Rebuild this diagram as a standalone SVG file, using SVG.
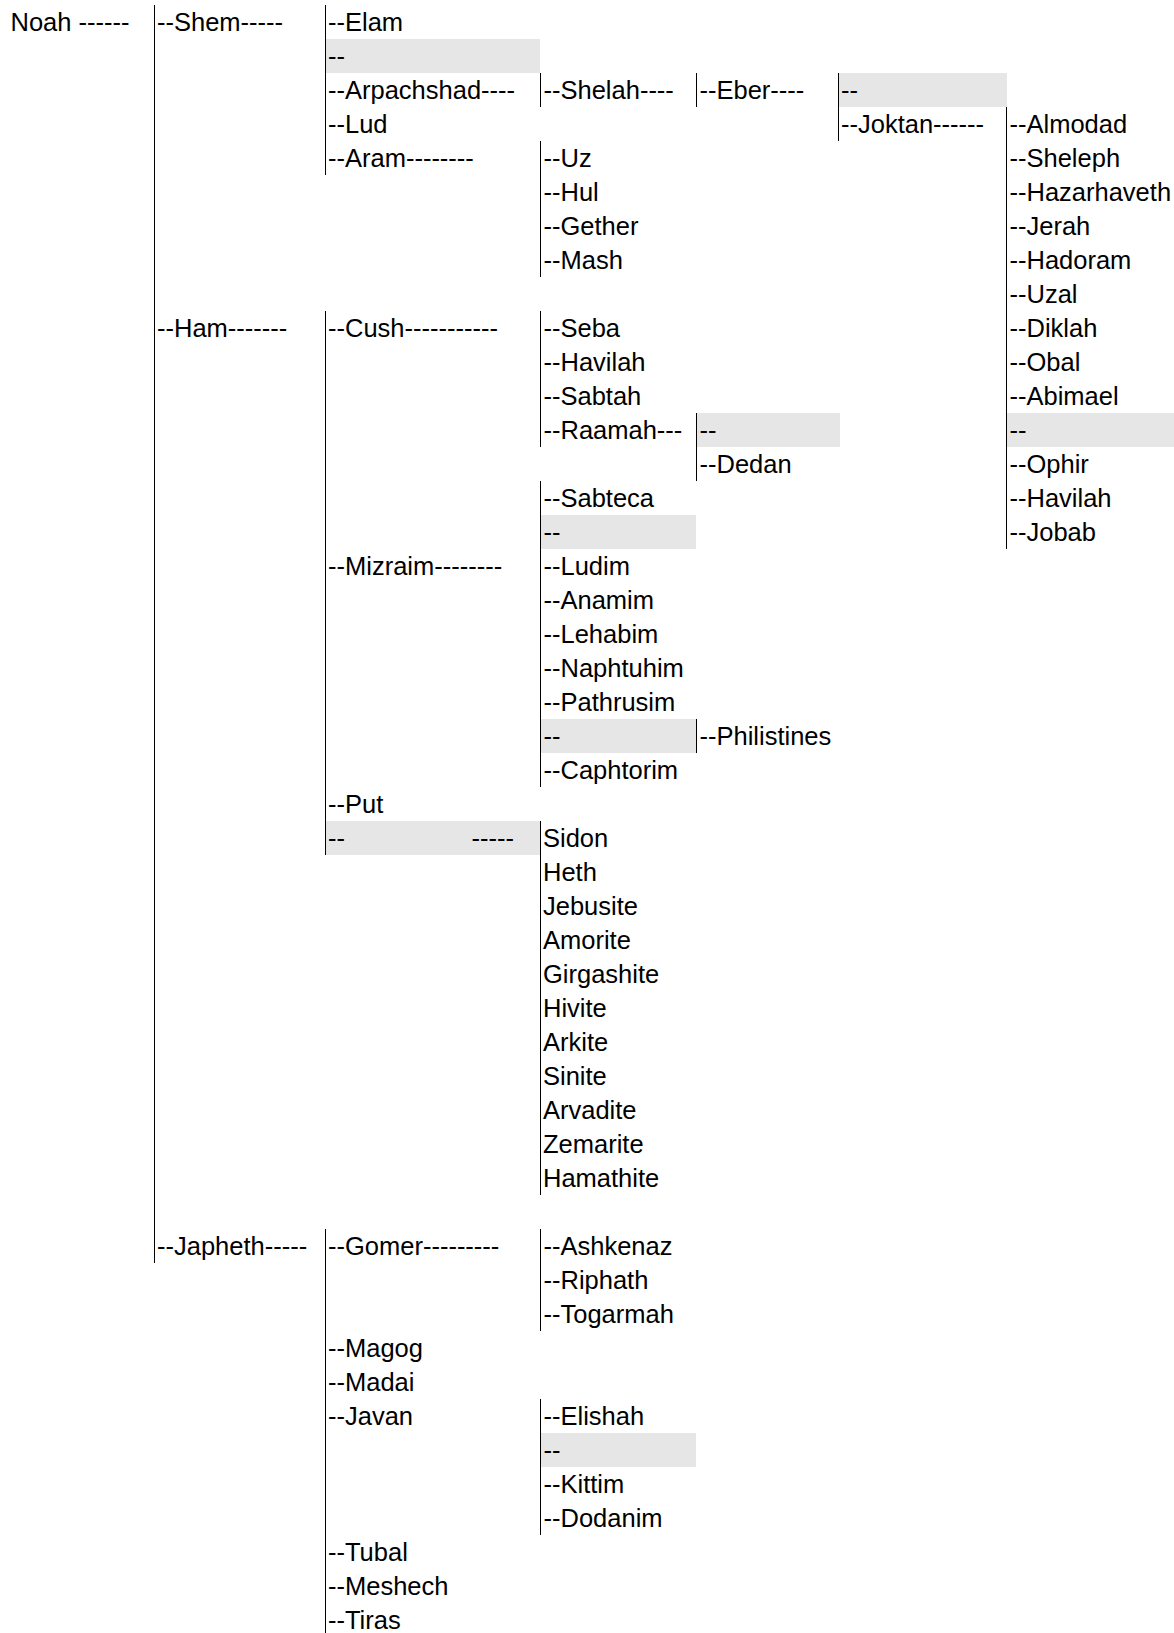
<svg xmlns="http://www.w3.org/2000/svg" width="1174" height="1633" viewBox="0 0 1174 1633">
<style>
text{font-family:"Liberation Sans",Arial,sans-serif;font-size:25.5px;fill:#000}
.g{fill:#e6e6e6}
#connectors line{stroke:#000;stroke-width:1}
</style>
<rect width="1174" height="1633" fill="#fff"/>
<g id="shades">
<rect class="g" x="325" y="39" width="215" height="34"/>
<rect class="g" x="838" y="73" width="169" height="34"/>
<rect class="g" x="696" y="413" width="144" height="34"/>
<rect class="g" x="1006" y="413" width="168" height="34"/>
<rect class="g" x="540" y="515" width="156" height="34"/>
<rect class="g" x="540" y="719" width="156" height="34"/>
<rect class="g" x="325" y="821" width="215" height="34"/>
<rect class="g" x="540" y="1433" width="156" height="34"/>
</g>
<g id="connectors">
<line x1="154.5" y1="5" x2="154.5" y2="1263"/>
<line x1="325.5" y1="5" x2="325.5" y2="175"/>
<line x1="325.5" y1="311" x2="325.5" y2="855"/>
<line x1="325.5" y1="1229" x2="325.5" y2="1633"/>
<line x1="540.5" y1="73" x2="540.5" y2="107"/>
<line x1="540.5" y1="141" x2="540.5" y2="277"/>
<line x1="540.5" y1="311" x2="540.5" y2="447"/>
<line x1="540.5" y1="481" x2="540.5" y2="787"/>
<line x1="540.5" y1="821" x2="540.5" y2="1195"/>
<line x1="540.5" y1="1229" x2="540.5" y2="1331"/>
<line x1="540.5" y1="1399" x2="540.5" y2="1535"/>
<line x1="696.5" y1="73" x2="696.5" y2="107"/>
<line x1="696.5" y1="413" x2="696.5" y2="481"/>
<line x1="696.5" y1="719" x2="696.5" y2="753"/>
<line x1="838.5" y1="73" x2="838.5" y2="141"/>
<line x1="1006.5" y1="107" x2="1006.5" y2="549"/>
</g>
<g id="noah"><text x="10.5" y="31">Noah ------</text></g>
<g id="shem"><text x="157" y="31">--Shem-----</text></g>
<g id="ham"><text x="157" y="337">--Ham-------</text></g>
<g id="japheth"><text x="157" y="1255">--Japheth-----</text></g>
<g id="elam"><text x="328" y="31">--Elam</text></g>
<g id="shem-blank"><text x="328" y="65">--</text></g>
<g id="arpachshad"><text x="328" y="99">--Arpachshad----</text></g>
<g id="lud"><text x="328" y="133">--Lud</text></g>
<g id="aram"><text x="328" y="167">--Aram--------</text></g>
<g id="cush"><text x="328" y="337">--Cush-----------</text></g>
<g id="mizraim"><text x="328" y="575">--Mizraim--------</text></g>
<g id="put"><text x="328" y="813">--Put</text></g>
<g id="canaan"><text x="328" y="847">--</text><text x="471.5" y="847">-----</text></g>
<g id="gomer"><text x="328" y="1255">--Gomer---------</text></g>
<g id="magog"><text x="328" y="1357">--Magog</text></g>
<g id="madai"><text x="328" y="1391">--Madai</text></g>
<g id="javan"><text x="328" y="1425">--Javan</text></g>
<g id="tubal"><text x="328" y="1561">--Tubal</text></g>
<g id="meshech"><text x="328" y="1595">--Meshech</text></g>
<g id="tiras"><text x="328" y="1629">--Tiras</text></g>
<g id="shelah"><text x="543.5" y="99">--Shelah----</text></g>
<g id="uz"><text x="543.5" y="167">--Uz</text></g>
<g id="hul"><text x="543.5" y="201">--Hul</text></g>
<g id="gether"><text x="543.5" y="235">--Gether</text></g>
<g id="mash"><text x="543.5" y="269">--Mash</text></g>
<g id="seba"><text x="543.5" y="337">--Seba</text></g>
<g id="havilah-cush"><text x="543.5" y="371">--Havilah</text></g>
<g id="sabtah"><text x="543.5" y="405">--Sabtah</text></g>
<g id="raamah"><text x="543.5" y="439">--Raamah---</text></g>
<g id="sabteca"><text x="543.5" y="507">--Sabteca</text></g>
<g id="cush-blank"><text x="543.5" y="541">--</text></g>
<g id="ludim"><text x="543.5" y="575">--Ludim</text></g>
<g id="anamim"><text x="543.5" y="609">--Anamim</text></g>
<g id="lehabim"><text x="543.5" y="643">--Lehabim</text></g>
<g id="naphtuhim"><text x="543.5" y="677">--Naphtuhim</text></g>
<g id="pathrusim"><text x="543.5" y="711">--Pathrusim</text></g>
<g id="casluhim"><text x="543.5" y="745">--</text></g>
<g id="caphtorim"><text x="543.5" y="779">--Caphtorim</text></g>
<g id="sidon"><text x="543" y="847">Sidon</text></g>
<g id="heth"><text x="543" y="881">Heth</text></g>
<g id="jebusite"><text x="543" y="915">Jebusite</text></g>
<g id="amorite"><text x="543" y="949">Amorite</text></g>
<g id="girgashite"><text x="543" y="983">Girgashite</text></g>
<g id="hivite"><text x="543" y="1017">Hivite</text></g>
<g id="arkite"><text x="543" y="1051">Arkite</text></g>
<g id="sinite"><text x="543" y="1085">Sinite</text></g>
<g id="arvadite"><text x="543" y="1119">Arvadite</text></g>
<g id="zemarite"><text x="543" y="1153">Zemarite</text></g>
<g id="hamathite"><text x="543" y="1187">Hamathite</text></g>
<g id="ashkenaz"><text x="543.5" y="1255">--Ashkenaz</text></g>
<g id="riphath"><text x="543.5" y="1289">--Riphath</text></g>
<g id="togarmah"><text x="543.5" y="1323">--Togarmah</text></g>
<g id="elishah"><text x="543.5" y="1425">--Elishah</text></g>
<g id="javan-blank"><text x="543.5" y="1459">--</text></g>
<g id="kittim"><text x="543.5" y="1493">--Kittim</text></g>
<g id="dodanim"><text x="543.5" y="1527">--Dodanim</text></g>
<g id="eber"><text x="699.5" y="99">--Eber----</text></g>
<g id="raamah-blank"><text x="699.5" y="439">--</text></g>
<g id="dedan"><text x="699.5" y="473">--Dedan</text></g>
<g id="philistines"><text x="699.5" y="745">--Philistines</text></g>
<g id="eber-blank"><text x="841" y="99">--</text></g>
<g id="joktan"><text x="841" y="133">--Joktan------</text></g>
<g id="almodad"><text x="1009.5" y="133">--Almodad</text></g>
<g id="sheleph"><text x="1009.5" y="167">--Sheleph</text></g>
<g id="hazarhaveth"><text x="1009.5" y="201">--Hazarhaveth</text></g>
<g id="jerah"><text x="1009.5" y="235">--Jerah</text></g>
<g id="hadoram"><text x="1009.5" y="269">--Hadoram</text></g>
<g id="uzal"><text x="1009.5" y="303">--Uzal</text></g>
<g id="diklah"><text x="1009.5" y="337">--Diklah</text></g>
<g id="obal"><text x="1009.5" y="371">--Obal</text></g>
<g id="abimael"><text x="1009.5" y="405">--Abimael</text></g>
<g id="joktan-blank"><text x="1009.5" y="439">--</text></g>
<g id="ophir"><text x="1009.5" y="473">--Ophir</text></g>
<g id="havilah-joktan"><text x="1009.5" y="507">--Havilah</text></g>
<g id="jobab"><text x="1009.5" y="541">--Jobab</text></g>
</svg>
